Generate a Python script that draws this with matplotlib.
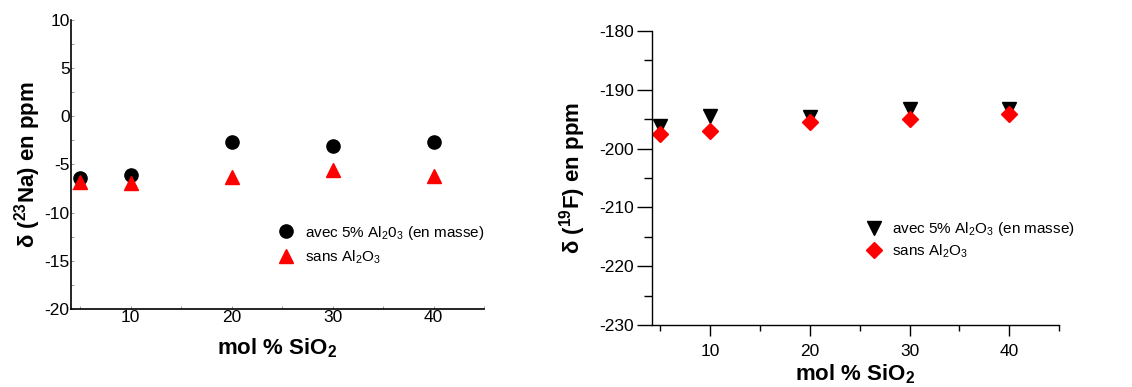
import matplotlib
matplotlib.use("Agg")
import matplotlib.pyplot as plt
from matplotlib.ticker import MultipleLocator

plt.rcParams['font.family'] = ['Liberation Sans', 'DejaVu Sans']
plt.rcParams['mathtext.fontset'] = 'custom'
plt.rcParams['mathtext.rm'] = 'Liberation Sans'
plt.rcParams['mathtext.bf'] = 'Liberation Sans:bold'
plt.rcParams['axes.unicode_minus'] = False

# Data
sio2 = [5, 10, 20, 30, 40]
na_avec = [-6.35, -6.1, -2.7, -3.1, -2.7]
na_sans = [-6.85, -6.9, -6.3, -5.6, -6.2]
f_avec = [-196.1, -194.4, -194.6, -193.2, -193.2]
f_sans = [-197.6, -197.0, -195.4, -195.0, -194.2]

fig = plt.figure(figsize=(11.32, 3.87), dpi=100)

# Left panel
ax1 = fig.add_axes([71/1132, 1-309/387, (484-71)/1132, (309-20)/387])
ax1.plot(sio2, na_avec, 'o', color='black', markersize=9.5, linestyle='none',
         label=r'avec 5% Al$_2$0$_3$ (en masse)')
ax1.plot(sio2, na_sans, '^', color='red', markersize=10, linestyle='none',
         label=r'sans Al$_2$O$_3$')
ax1.set_xlim(4.1, 45)
ax1.set_ylim(-20, 10)
ax1.xaxis.set_major_locator(MultipleLocator(10))
ax1.xaxis.set_minor_locator(MultipleLocator(5))
ax1.yaxis.set_major_locator(MultipleLocator(5))
ax1.yaxis.set_minor_locator(MultipleLocator(2.5))
for s in ['top', 'right']:
    ax1.spines[s].set_visible(False)
ax1.spines['left'].set_linewidth(1.2)
ax1.spines['bottom'].set_linewidth(1.2)
ax1.tick_params(which='both', direction='in', length=2, width=0.6, color='#888888',
                labelsize=12.5, pad=1)
ax1.set_xticks([10, 20, 30, 40])
ax1.set_xlabel(r'mol % SiO$_\mathbf{2}$', fontsize=16, fontweight='bold', labelpad=8)
ax1.set_ylabel(r'δ ($^{\mathbf{23}}$Na) en ppm', fontsize=16, fontweight='bold', labelpad=1)
ax1.legend(loc='center left', bbox_to_anchor=(0.499, 0.2215), frameon=False, fontsize=11,
           handletextpad=0.6, labelspacing=0.45, handlelength=1.2, borderaxespad=0,
           borderpad=0)

# Right panel
ax2 = fig.add_axes([652/1132, 1-325/387, (1059-652)/1132, (325-31)/387])
ax2.plot(sio2, f_avec, 'v', color='black', markersize=10.5, linestyle='none',
         label=r'avec 5% Al$_2$O$_3$ (en masse)')
ax2.plot(sio2, f_sans, 'D', color='red', markersize=8.5, linestyle='none',
         label=r'sans Al$_2$O$_3$')
ax2.set_xlim(4.15, 45)
ax2.set_ylim(-230, -180)
ax2.xaxis.set_major_locator(MultipleLocator(10))
ax2.xaxis.set_minor_locator(MultipleLocator(5))
ax2.yaxis.set_major_locator(MultipleLocator(10))
ax2.yaxis.set_minor_locator(MultipleLocator(5))
for s in ['top', 'right']:
    ax2.spines[s].set_visible(False)
ax2.spines['left'].set_linewidth(1.0)
ax2.spines['bottom'].set_linewidth(1.0)
ax2.tick_params(axis='y', which='major', direction='out', length=11, width=1.0, labelsize=12.5, pad=2)
ax2.tick_params(axis='y', which='minor', direction='out', length=6, width=1.0)
ax2.tick_params(axis='x', which='major', direction='out', length=8, width=1.0, labelsize=12.5, pad=6)
ax2.tick_params(axis='x', which='minor', direction='out', length=4, width=1.0)
ax2.set_xticks([10, 20, 30, 40])
ax2.set_xlabel(r'mol % SiO$_\mathbf{2}$', fontsize=16, fontweight='bold', labelpad=2)
ax2.set_ylabel(r'δ ($^{\mathbf{19}}$F) en ppm', fontsize=16, fontweight='bold', labelpad=8)
ax2.legend(loc='center left', bbox_to_anchor=(0.523, 0.289), frameon=False, fontsize=11,
           handletextpad=0.6, labelspacing=0.25, handlelength=1.2, borderaxespad=0,
           borderpad=0)

fig.savefig('out.png', dpi=100)
